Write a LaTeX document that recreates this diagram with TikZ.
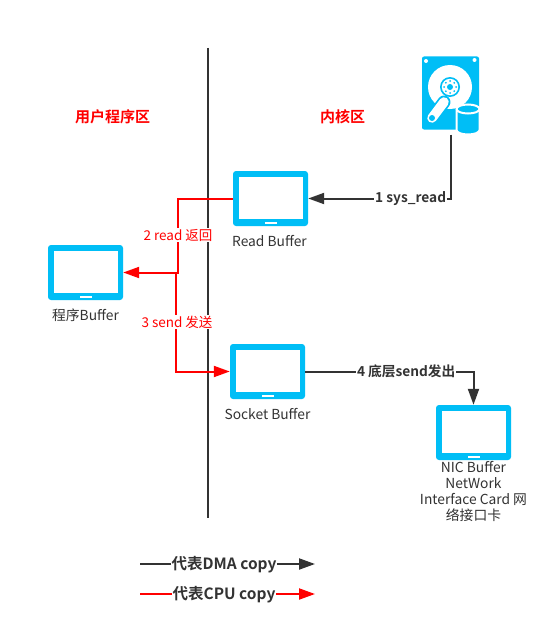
\documentclass[tikz,border=0pt]{standalone}
\usepackage{fontspec}
\setmainfont{Noto Sans CJK SC}[BoldFont={Noto Sans CJK SC Bold}]
\usetikzlibrary{arrows.meta,positioning}
\definecolor{iconblue}{HTML}{00BEF6}
\definecolor{inkgray}{HTML}{333333}
\tikzset{
  tablet/.style={
    rectangle,rounded corners=3,fill=iconblue,inner sep=0,
    minimum width=75,minimum height=55,
    path picture={
      \fill [white,sharp corners] 
        ([xshift=5.5,yshift=7]path picture bounding box.south west)
        rectangle ([xshift=-5.5,yshift=-5.5]path picture bounding box.north east);
      \fill [white,sharp corners] 
        ([xshift=-6,yshift=2.5]path picture bounding box.south)
        rectangle ([xshift=6,yshift=4.5]path picture bounding box.south);
    }
  },
  caption/.style={text=inkgray,font=\fontsize{13.8}{16}\selectfont,align=center,inner sep=0},
  heading/.style={text=red,font=\fontsize{15}{18}\selectfont\bfseries,inner sep=0},
  flowdark/.style={draw=inkgray,line width=2,-{Triangle[length=16,width=11]}},
  flowred/.style={draw=red,line width=2,-{Triangle[length=16,width=11]}},
  darktag/.style={fill=white,text=inkgray,font=\fontsize{13.7}{16}\selectfont\bfseries,inner sep=1},
  redtag/.style={fill=white,text=red,font=\fontsize{13.5}{16}\selectfont,inner sep=1},
  legendtag/.style={fill=white,text=inkgray,font=\fontsize{15.5}{18}\selectfont\bfseries,inner sep=0.5}
}
\begin{document}
\begin{tikzpicture}[x=1pt,y=-1pt]
  \useasboundingbox [fill=white] (0,0) rectangle (543,626);
  \coordinate (axis top) at (208,48);
  \coordinate (axis bottom) at (208,518);
  \draw [inkgray,line width=2] (axis top) -- (axis bottom);
  \node [heading] (user zone) at (112.5,117) {用户程序区};
  \node [heading] (kernel zone) at (342.5,117) {内核区};

  \node [tablet] (read buffer) at (270.5,198.5) {};
  \node [tablet] (program buffer) at (85.5,272.5) {};
  \node [tablet] (socket buffer) at (267.5,371.5) {};
  \node [tablet] (nic buffer) at (473.5,432.5) {};
  \node [caption,below=8.5pt of read buffer,xshift=-1pt] (read caption) {Read Buffer};
  \node [caption,below=8.5pt of program buffer] (program caption) {程序Buffer};
  \node [caption,below=8.5pt of socket buffer] (socket caption) {Socket Buffer};
  \node [caption,below=1pt of nic buffer] (nic caption)
    {NIC Buffer\\NetWork\\Interface Card 网\\络接口卡};

  \node [rectangle,rounded corners=2,fill=iconblue,inner sep=0,
    minimum width=57,minimum height=73] (disk) at (450.5,93) {};
  \fill [white] (450,87) circle [radius=22];
  \fill [white] (426,61) circle [radius=2];
  \fill [white] (474.5,60) circle [radius=2];
  \fill [iconblue] (450,87) circle [radius=10];
  \fill [white] (450,87) circle [radius=8.2];
  \fill [iconblue] (450,87) circle [radius=3];
  \foreach \n in {0,45,...,315}{
    \fill [iconblue] (450,87) ++(\n:6) circle [radius=1];
  }
  \draw [iconblue,line width=13,line cap=round] (432,118) -- (444,102);
  \draw [white,line width=9.5,line cap=round] (432,118) -- (444,102);
  \fill [iconblue] (432,118) circle [radius=3];
  \draw [white,line width=2,fill=iconblue]
    (456.5,109)
    -- ++(0,21)
    arc [start angle=180,end angle=0,x radius=11.5,y radius=4.5]
    -- ++(0,-21)
    arc [start angle=0,end angle=-180,x radius=11.5,y radius=4.5]
    -- cycle
  ;
  \draw [white,line width=2] (456.5,109) arc [start angle=180,end angle=0,x radius=11.5,y radius=4.5];

  \draw [flowdark,shorten <=5] (disk.south) |- (read buffer.east)
    node [pos=0.64,darktag] (sys read tag) {1 sys\_read}
  ;
  \draw [flowred] (read buffer.west) -- (178,198.5) -- (178,272.5)
      coordinate [pos=1] (red split)
    -- (program buffer.east)
  ;
  \node [redtag] (read tag) at (178,235) {2 read 返回};
  \draw [flowred] ([xshift=-2]red split) |- (socket buffer.west);
  \node [redtag] (send tag) at (177,322) {3 send 发送};
  \draw [flowdark] (socket buffer.east) -| (nic buffer.north)
    node [pos=0.3,darktag] (nic tag) {4 底层send发出}
  ;

  \coordinate (dma start) at (140,564);
  \coordinate (dma end) at (315,564);
  \coordinate (cpu start) at (140,594);
  \coordinate (cpu end) at (315,594);
  \draw [flowdark] (dma start) -- (dma end)
    node [pos=0.48,legendtag,yshift=-0.5pt] (dma tag) {代表DMA copy}
  ;
  \draw [flowred] (cpu start) -- (cpu end)
    node [pos=0.48,legendtag,yshift=-0.5pt] (cpu tag) {代表CPU copy}
  ;
\end{tikzpicture}
\end{document}
